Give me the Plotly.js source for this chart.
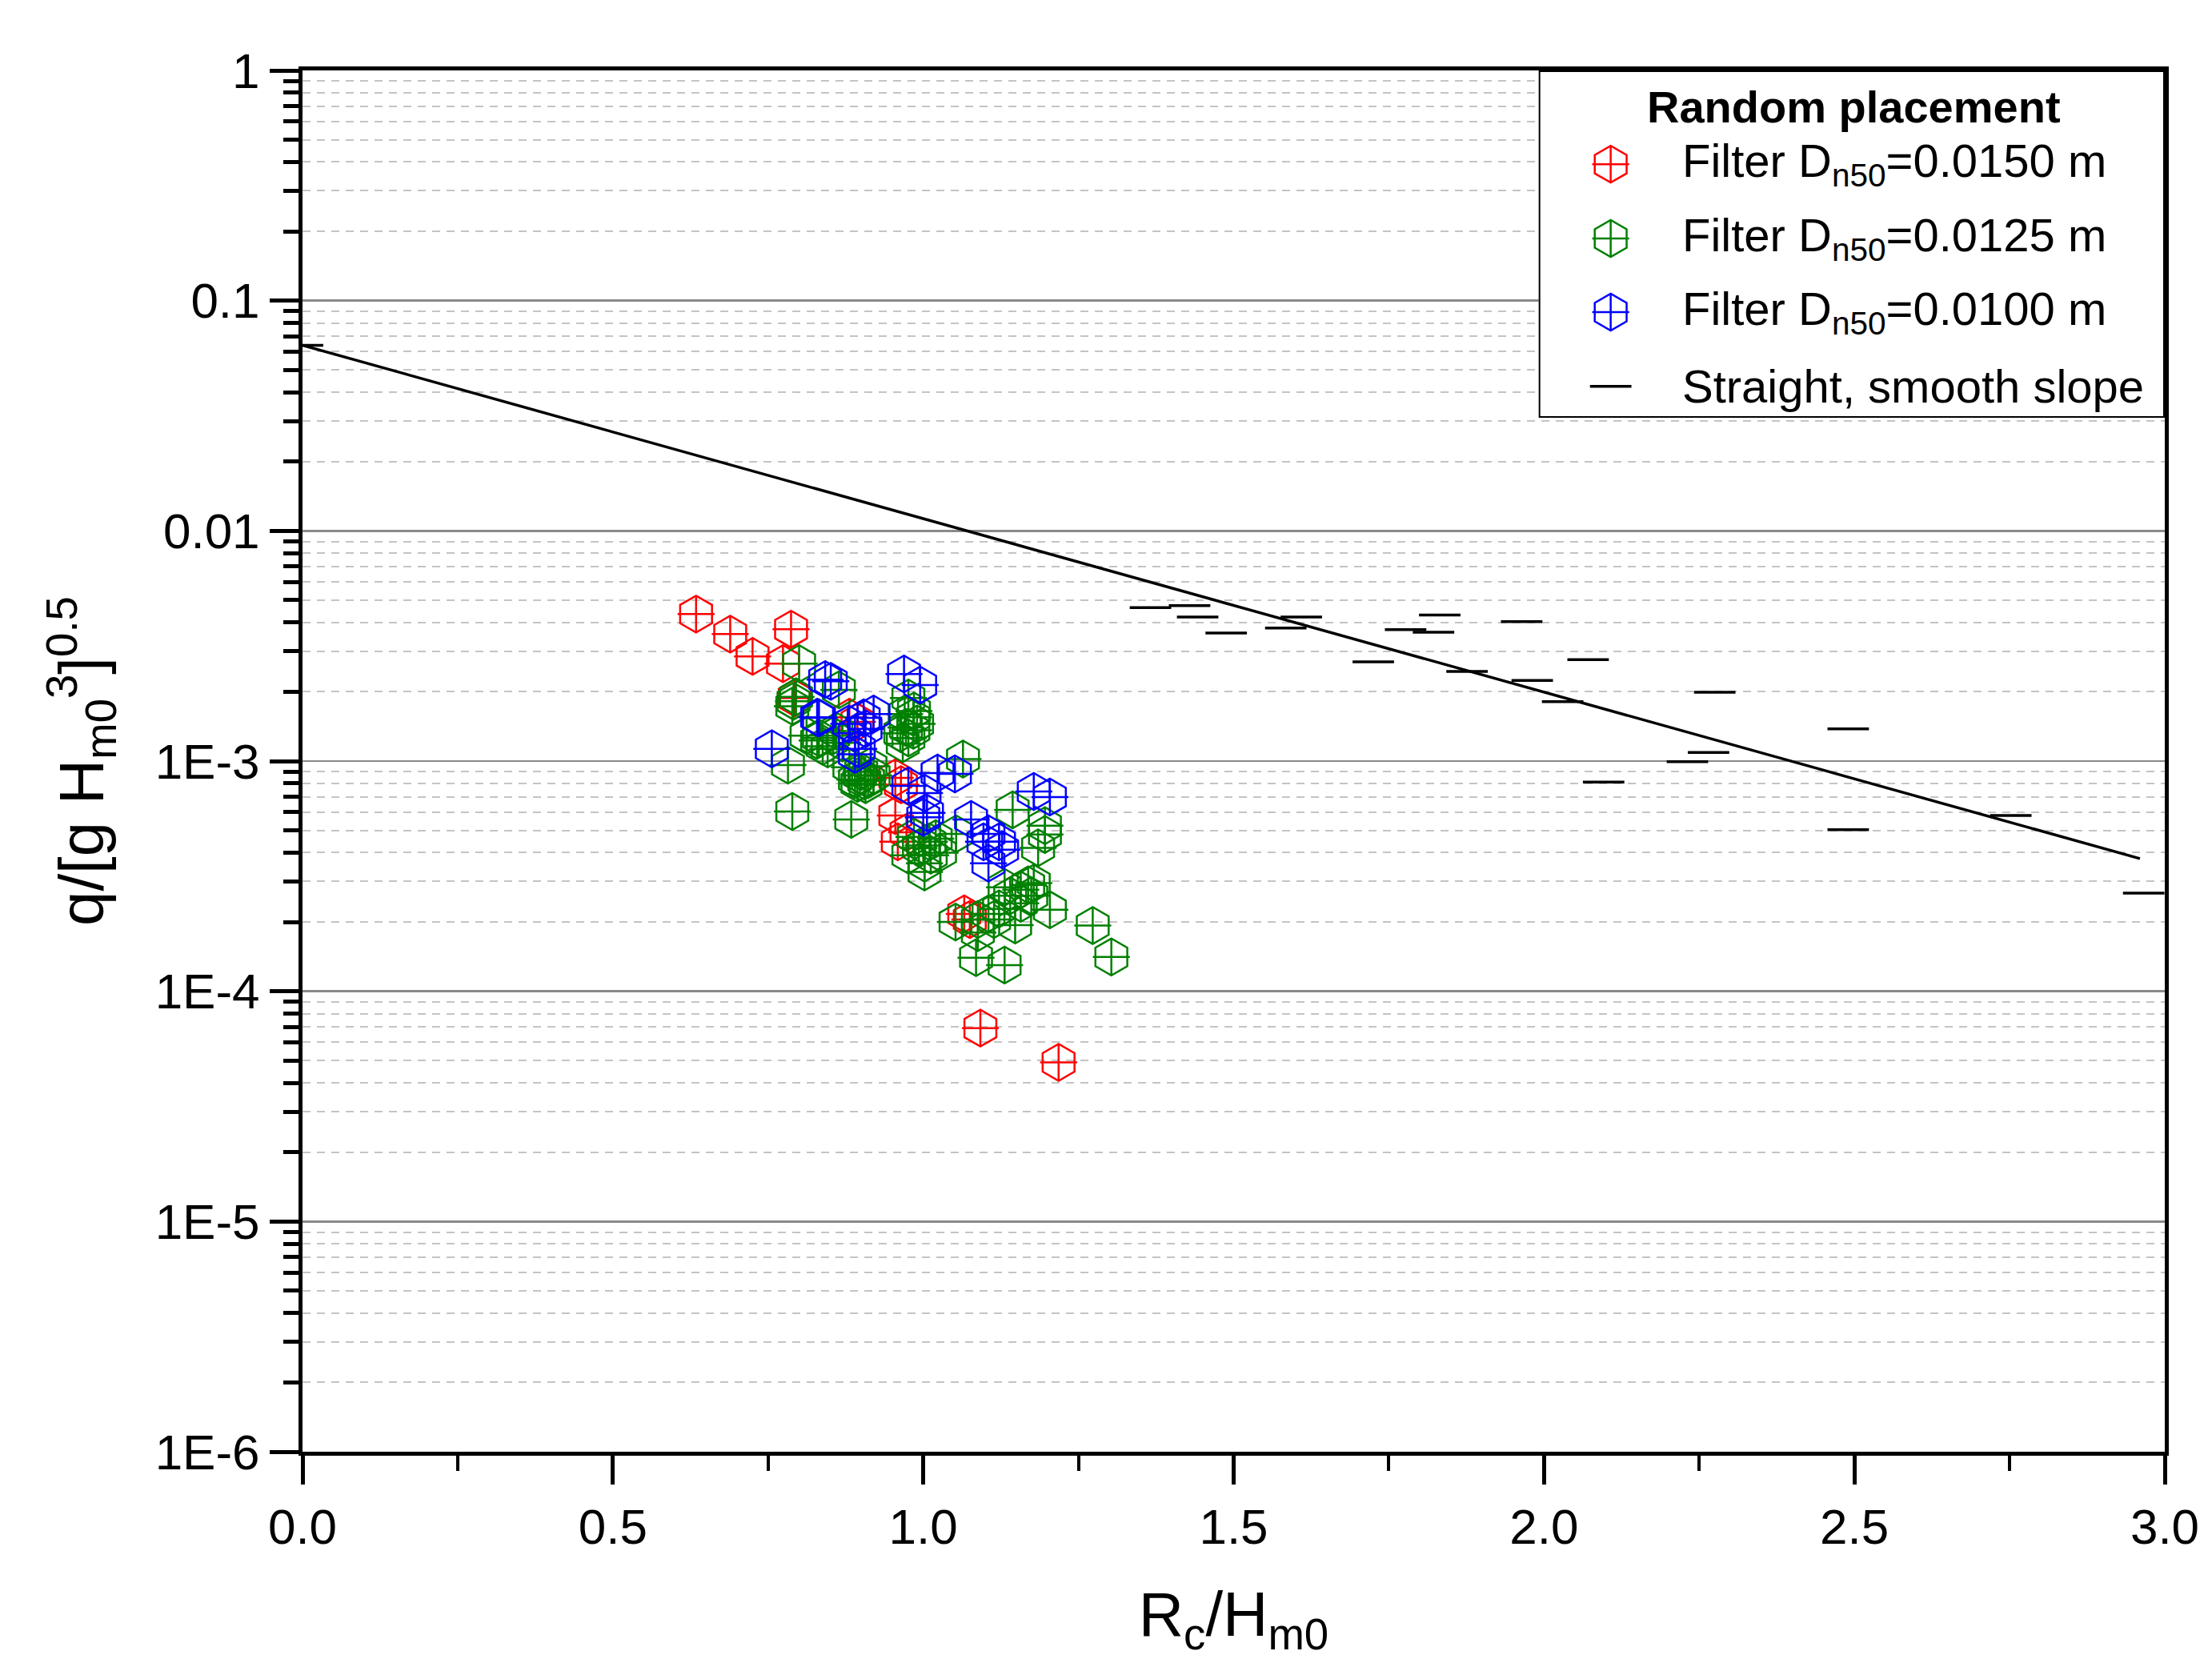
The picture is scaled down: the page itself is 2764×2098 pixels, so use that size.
<!DOCTYPE html>
<html>
<head>
<meta charset="utf-8">
<script src="https://cdn.plot.ly/plotly-3.0.1.min.js"></script>
<style>
  html, body { margin: 0; padding: 0; background: #fff; }
  #chart { width: 2764px; height: 2098px; }
</style>
</head>
<body>
<div id="chart"></div>
<script>
// Filter Dn50 = 0.0150 m (red)
var redX = [0.634, 0.689, 0.725, 0.787, 0.774, 0.793, 0.881, 0.894, 0.955, 0.964, 0.955, 0.973, 0.959, 1.066, 1.075, 1.092, 1.218];
var redQ = [4.35e-3, 3.56e-3, 2.85e-3, 3.74e-3, 2.65e-3, 1.88e-3, 1.55e-3, 1.48e-3, 8.45e-4, 7.9e-4, 5.8e-4, 4.9e-4, 4.46e-4, 2.17e-4, 2.05e-4, 6.92e-5, 4.91e-5];

// Filter Dn50 = 0.0125 m (green)
var greenX = [0.800, 0.791, 0.789, 0.795, 0.782, 0.789, 0.884, 0.864, 0.832, 0.838, 0.846, 0.855, 0.881, 0.898, 0.907, 0.890, 0.920,
  0.976, 0.984, 0.972, 0.976, 0.963, 0.984, 0.985, 0.967, 0.812, 0.829, 0.894, 0.911, 1.064, 1.144, 1.196, 1.185, 1.196,
  0.993, 0.985, 1.010, 1.002, 1.002, 0.976, 1.027, 1.053, 1.052, 1.085, 1.131, 1.273, 1.303, 1.204, 1.148, 1.088, 1.088,
  1.114, 1.122, 1.140, 1.157, 1.169, 1.178, 1.174, 1.157, 1.105, 1.131, 0.900, 0.915, 0.905, 1.000, 1.012, 1.020, 0.870,
  0.860, 0.970, 0.990];
var greenQ = [2.65e-3, 1.82e-3, 1.73e-3, 1.90e-3, 9.6e-4, 6.04e-4, 5.58e-4, 2.04e-3, 1.26e-3, 1.16e-3, 1.13e-3, 1.29e-3, 9.4e-4, 8.65e-4, 7.9e-4, 8.3e-4, 8.65e-4,
  1.88e-3, 1.55e-3, 1.40e-3, 1.26e-3, 1.32e-3, 1.36e-3, 1.65e-3, 1.19e-3, 1.29e-3, 1.23e-3, 8.0e-4, 8.3e-4, 1.02e-3, 6.14e-4, 5.24e-4, 4.2e-4, 4.8e-4,
  4.2e-4, 4.68e-4, 4.46e-4, 3.6e-4, 3.3e-4, 3.9e-4, 4.0e-4, 4.83e-4, 2.0e-4, 1.4e-4, 1.3e-4, 1.93e-4, 1.41e-4, 2.26e-4, 1.94e-4, 1.8e-4, 2.05e-4,
  2.05e-4, 2.28e-4, 2.6e-4, 2.76e-4, 2.9e-4, 2.95e-4, 2.6e-4, 2.41e-4, 2.17e-4, 2.83e-4, 9.0e-4, 9.5e-4, 8.2e-4, 4.3e-4, 3.9e-4, 4.6e-4, 1.2e-3,
  1.35e-3, 1.6e-3, 1.45e-3];

// Filter Dn50 = 0.0100 m (blue)
var blueX = [0.969, 0.995, 0.842, 0.851, 0.832, 0.904, 0.920, 0.907, 0.896, 0.890, 1.023, 1.051, 0.976, 1.002, 1.006, 1.000,
  1.077, 1.178, 1.204, 1.105, 1.122, 1.127, 1.105, 1.097, 0.756, 0.829, 0.890, 0.880];
var blueQ = [2.39e-3, 2.14e-3, 2.26e-3, 2.22e-3, 1.54e-3, 1.54e-3, 1.60e-3, 1.38e-3, 1.13e-3, 1.07e-3, 8.87e-4, 8.8e-4, 7.8e-4, 7.26e-4, 5.95e-4, 5.7e-4,
  5.58e-4, 7.38e-4, 6.98e-4, 4.83e-4, 4.46e-4, 4.12e-4, 3.6e-4, 4.46e-4, 1.13e-3, 1.55e-3, 1.32e-3, 1.45e-3];

// Straight, smooth slope (reference data)
var slopeX = [0, 1.366, 1.429, 1.442, 1.488, 1.584, 1.609, 1.725, 1.777, 1.822, 1.832, 1.876, 1.964, 1.981, 2.071, 2.030,
  2.096, 2.275, 2.265, 2.231, 2.490, 2.490, 2.752, 2.966];
var slopeQ = [0.064, 4.64e-3, 4.73e-3, 4.22e-3, 3.60e-3, 3.78e-3, 4.22e-3, 2.70e-3, 3.72e-3, 3.63e-3, 4.31e-3, 2.45e-3, 4.03e-3, 2.24e-3, 2.76e-3, 1.81e-3,
  8.1e-4, 1.99e-3, 1.09e-3, 9.95e-4, 1.38e-3, 5.03e-4, 5.8e-4, 2.67e-4];

// trend line end points
var lineX = [0, 2.96];
var lineQ = [0.064, 3.77e-4];

var yTickVals = [1e-6, 1e-5, 1e-4, 1e-3, 0.01, 0.1, 1];
var yTickText = ['1E-6', '1E-5', '1E-4', '1E-3', '0.01', '0.1', '1'];

var legendNames = ['Filter D<sub>n50</sub>=0.0150 m', 'Filter D<sub>n50</sub>=0.0125 m', 'Filter D<sub>n50</sub>=0.0100 m', 'Straight, smooth slope'];
var legendColors = ['#ff0000', '#008000', '#0000ff', '#000000'];
var legendTitle = 'Random placement';

var FONT = 'Arial, "Liberation Sans", sans-serif';
var HEX = 46, CROSS = 33;

function hexTrace(x, y, color, xa, ya) {
  return {x: x, y: y, xaxis: xa || 'x', yaxis: ya || 'y', type: 'scatter', mode: 'markers', showlegend: false, hoverinfo: 'skip',
    marker: {symbol: 'hexagon-open', size: HEX, color: color, line: {color: color, width: 2.5}}};
}
function crossTrace(x, y, color, xa, ya) {
  return {x: x, y: y, xaxis: xa || 'x', yaxis: ya || 'y', type: 'scatter', mode: 'markers', showlegend: false, hoverinfo: 'skip',
    marker: {symbol: 'cross-thin-open', size: CROSS, color: color, line: {color: color, width: 2.5}}};
}

var traces = [
  hexTrace(redX, redQ, legendColors[0]), crossTrace(redX, redQ, legendColors[0]),
  hexTrace(greenX, greenQ, legendColors[1]), crossTrace(greenX, greenQ, legendColors[1]),
  hexTrace(blueX, blueQ, legendColors[2]), crossTrace(blueX, blueQ, legendColors[2]),
  {x: slopeX, y: slopeQ, type: 'scatter', mode: 'markers', showlegend: false, hoverinfo: 'skip',
    marker: {symbol: 'line-ew-open', size: 37, color: '#000', line: {color: '#000', width: 3.5}}},
  {x: lineX, y: lineQ, type: 'scatter', mode: 'lines', showlegend: false, hoverinfo: 'skip',
    line: {color: '#000', width: 3.5}}
];

// hand-made legend, drawn on a small second pair of axes over the top right corner
var legRowY = [0.73, 0.516, 0.304, 0.09];
var legKeyX = 0.115;
for (var i = 0; i < 3; i++) {
  traces.push(hexTrace([legKeyX], [legRowY[i]], legendColors[i], 'x2', 'y2'));
  traces.push(crossTrace([legKeyX], [legRowY[i]], legendColors[i], 'x2', 'y2'));
}
traces.push({x: [legKeyX], y: [legRowY[3]], xaxis: 'x2', yaxis: 'y2', type: 'scatter', mode: 'markers', showlegend: false, hoverinfo: 'skip',
  marker: {symbol: 'line-ew-open', size: 37, color: '#000', line: {color: '#000', width: 3.5}}});

var annotations = [{
  xref: 'x2', yref: 'y2', x: 0.503, y: 0.895, text: '<b>' + legendTitle + '</b>', showarrow: false,
  xanchor: 'center', yanchor: 'middle', font: {family: FONT, size: 56, color: '#000'}
}];
for (var j = 0; j < legendNames.length; j++) {
  annotations.push({
    xref: 'x2', yref: 'y2', x: 0.227, y: legRowY[j], text: legendNames[j], showarrow: false,
    xanchor: 'left', yanchor: 'middle', font: {family: FONT, size: 58, color: '#000'}
  });
}

var layout = {
  width: 2764, height: 2098,
  margin: {l: 378, r: 59, t: 88, b: 284},
  paper_bgcolor: '#fff', plot_bgcolor: '#fff',
  font: {family: FONT, color: '#000'},
  showlegend: false,
  xaxis: {
    range: [0, 3], tick0: 0, dtick: 0.5, tickformat: '.1f',
    ticks: 'outside', ticklen: 36, tickwidth: 5, tickcolor: '#000',
    showline: true, linewidth: 5, linecolor: '#000', mirror: true,
    showgrid: false, zeroline: false,
    tickfont: {family: FONT, size: 62, color: '#000'},
    minor: {dtick: 0.25, ticks: 'outside', ticklen: 19, tickwidth: 4, tickcolor: '#000', showgrid: false},
    title: {text: 'R<sub>c</sub>/H<sub>m0</sub>', font: {family: FONT, size: 78, color: '#000'}, standoff: 50}
  },
  yaxis: {
    type: 'log', range: [-6, 0],
    tickmode: 'array', tickvals: yTickVals, ticktext: yTickText,
    ticks: 'outside', ticklen: 36, tickwidth: 5, tickcolor: '#000',
    showline: true, linewidth: 5, linecolor: '#000', mirror: true,
    showgrid: true, gridcolor: '#8a8a8a', gridwidth: 2.5, zeroline: false,
    tickfont: {family: FONT, size: 62, color: '#000'},
    minor: {dtick: 'D1', ticks: 'outside', ticklen: 19, tickwidth: 5, tickcolor: '#000',
      showgrid: true, gridcolor: '#c4c4c4', gridwidth: 2, griddash: '10px,8px'},
    title: {text: 'q/[g H<sub>m0</sub><sup>3</sup>]<sup>0.5</sup>', font: {family: FONT, size: 78, color: '#000'}, standoff: 40}
  },
  xaxis2: {domain: [0.6638, 1], range: [0, 1], visible: false, fixedrange: true, anchor: 'y2'},
  yaxis2: {domain: [0.7486, 1], range: [0, 1], visible: false, fixedrange: true, anchor: 'x2'},
  shapes: [{type: 'rect', xref: 'x2', yref: 'y2', x0: 0, x1: 1, y0: 0, y1: 1, layer: 'above',
    line: {color: '#000', width: 4}, fillcolor: 'rgba(0,0,0,0)'}],
  annotations: annotations
};

Plotly.newPlot('chart', traces, layout, {staticPlot: true, displayModeBar: false});
</script>
</body>
</html>
